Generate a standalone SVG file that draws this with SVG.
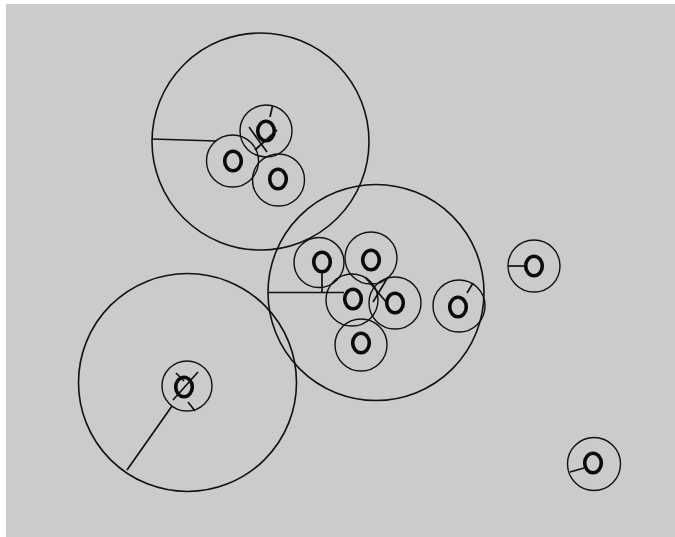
<svg xmlns="http://www.w3.org/2000/svg" width="675" height="537" viewBox="0 0 675 537">
<style>
.big{fill:none;stroke:#111;stroke-width:1.6}
.out{fill:none;stroke:#111;stroke-width:1.4}
.in{fill:none;stroke:#0a0a0a;stroke-width:3.6}
.ln{stroke:#111;stroke-width:1.7;fill:none}
</style>
<rect x="0" y="0" width="675" height="537" fill="#ffffff"/>
<rect x="6" y="4" width="669" height="533" fill="#cbcbcb"/>
<g id="cluster1"><circle class="big" cx="260.5" cy="141.5" r="108.5"/></g>
<g id="cluster2"><circle class="big" cx="376" cy="292.5" r="108"/></g>
<g id="cluster3"><circle class="big" cx="187.5" cy="382.5" r="109"/></g>
<g id="nA"><circle class="out" cx="266" cy="131" r="26"/><ellipse class="in" cx="266" cy="131" rx="8.3" ry="9.8"/></g>
<g id="nB"><circle class="out" cx="232.5" cy="161" r="26"/><ellipse class="in" cx="233" cy="161" rx="8.3" ry="9.8"/></g>
<g id="nC"><circle class="out" cx="278.5" cy="180" r="26"/><ellipse class="in" cx="278" cy="179" rx="8.3" ry="9.8"/></g>
<g id="nD1"><circle class="out" cx="319" cy="262.5" r="25"/><ellipse class="in" cx="322" cy="262" rx="8.3" ry="9.8"/></g>
<g id="nD2"><circle class="out" cx="371" cy="258" r="26"/><ellipse class="in" cx="371" cy="260" rx="8.3" ry="9.8"/></g>
<g id="nD3"><circle class="out" cx="352" cy="300" r="26"/><ellipse class="in" cx="353" cy="299" rx="8.3" ry="9.8"/></g>
<g id="nD4"><circle class="out" cx="395" cy="303" r="26"/><ellipse class="in" cx="395" cy="303" rx="8.3" ry="9.8"/></g>
<g id="nD5"><circle class="out" cx="361" cy="345" r="26"/><ellipse class="in" cx="361" cy="343" rx="8.3" ry="9.8"/></g>
<g id="nD6"><circle class="out" cx="459" cy="306" r="26"/><ellipse class="in" cx="458" cy="307" rx="8.3" ry="9.8"/></g>
<g id="nE"><circle class="out" cx="187" cy="386" r="25"/><ellipse class="in" cx="184" cy="387" rx="8.3" ry="9.8"/></g>
<g id="nF"><circle class="out" cx="534" cy="266" r="26"/><ellipse class="in" cx="534" cy="266" rx="8.3" ry="9.8"/></g>
<g id="nG"><circle class="out" cx="594" cy="464" r="26.5"/><ellipse class="in" cx="593" cy="463" rx="8.3" ry="9.8"/></g>
<g id="connectors">
<line class="ln" x1="152" y1="139" x2="216" y2="141"/>
<line class="ln" x1="268" y1="292.5" x2="344" y2="292.5"/>
<line class="ln" x1="127" y1="470" x2="172" y2="406"/>
<line class="ln" x1="249" y1="127" x2="267" y2="152"/>
<line class="ln" x1="277" y1="130" x2="255" y2="150"/>
<line class="ln" x1="365" y1="277" x2="387" y2="303"/>
<line class="ln" x1="388" y1="277" x2="373" y2="302"/>
<line class="ln" x1="198" y1="372" x2="173" y2="400"/>
<line class="ln" x1="176" y1="373" x2="184" y2="381"/>
<line class="ln" x1="272.5" y1="106" x2="270" y2="117"/>
<line class="ln" x1="322" y1="272" x2="322" y2="292.5"/>
<line class="ln" x1="467" y1="293" x2="473" y2="283"/>
<line class="ln" x1="188" y1="402" x2="195" y2="411"/>
<line class="ln" x1="508" y1="266" x2="524" y2="266"/>
<line class="ln" x1="570" y1="472" x2="584" y2="468"/>
</g>
</svg>
